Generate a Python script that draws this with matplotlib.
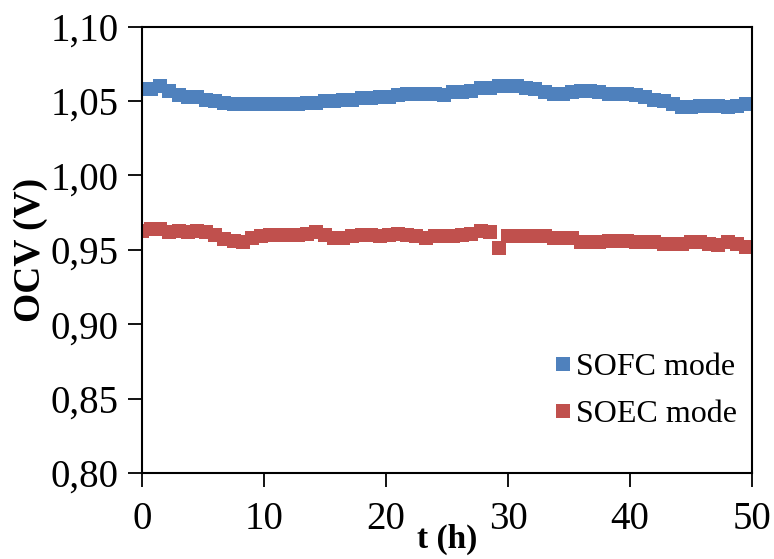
import matplotlib
matplotlib.use("Agg")
import matplotlib.pyplot as plt
from matplotlib.ticker import FuncFormatter, MultipleLocator

plt.rcParams['font.family'] = ['Liberation Serif', 'DejaVu Serif']

# Time (h) and open circuit voltage (V) for both modes
t_h = [0, 0.75, 1.5, 2.25, 3.0, 3.75, 4.5, 5.25, 6.0, 6.75, 7.5, 8.25, 9.0, 9.75,
       10.5, 11.25, 12.0, 12.75, 13.5, 14.25, 15.0, 15.75, 16.5, 17.25, 18.0, 18.75,
       19.5, 20.25, 21.0, 21.75, 22.5, 23.25, 24.0, 24.75, 25.5, 26.25, 27.0, 27.75,
       28.5, 29.25, 30.0, 30.75, 31.5, 32.25, 33.0, 33.75, 34.5, 35.25, 36.0, 36.75,
       37.5, 38.25, 39.0, 39.75, 40.5, 41.25, 42.0, 42.75, 43.5, 44.25, 45.0, 45.75,
       46.5, 47.25, 48.0, 48.75, 49.5]

ocv_sofc = [1.058, 1.058, 1.060, 1.057, 1.054, 1.053, 1.053, 1.051, 1.050, 1.049,
            1.048, 1.048, 1.048, 1.048, 1.048, 1.048, 1.048, 1.048, 1.049, 1.049,
            1.050, 1.050, 1.051, 1.051, 1.052, 1.052, 1.053, 1.053, 1.054, 1.055,
            1.055, 1.055, 1.055, 1.054, 1.056, 1.056, 1.057, 1.059, 1.059, 1.060,
            1.060, 1.060, 1.059, 1.058, 1.056, 1.055, 1.055, 1.056, 1.057, 1.057,
            1.056, 1.055, 1.055, 1.055, 1.054, 1.053, 1.051, 1.050, 1.048, 1.046,
            1.046, 1.047, 1.047, 1.047, 1.046, 1.047, 1.048]

ocv_soec = [0.963, 0.964, 0.964, 0.962, 0.963, 0.962, 0.963, 0.962, 0.960, 0.957,
            0.956, 0.955, 0.958, 0.959, 0.960, 0.960, 0.960, 0.960, 0.961, 0.962,
            0.960, 0.958, 0.958, 0.959, 0.960, 0.960, 0.959, 0.960, 0.961, 0.960,
            0.959, 0.958, 0.959, 0.959, 0.959, 0.960, 0.961, 0.963, 0.962, 0.951,
            0.959, 0.959, 0.959, 0.959, 0.959, 0.958, 0.958, 0.958, 0.955, 0.955,
            0.955, 0.956, 0.956, 0.956, 0.955, 0.955, 0.955, 0.954, 0.954, 0.954,
            0.955, 0.955, 0.954, 0.953, 0.955, 0.954, 0.952]

blue = "#4F81BD"
red = "#C0504D"

fig = plt.figure(figsize=(7.74, 5.59), dpi=100)
ax = fig.add_axes([0.1835, 0.1538, 0.788, 0.7984])

ax.plot(t_h, ocv_sofc, linestyle="none", marker="s", markersize=9.5,
        markeredgewidth=0, color=blue, label="SOFC mode")
ax.plot(t_h, ocv_soec, linestyle="none", marker="s", markersize=9.5,
        markeredgewidth=0, color=red, label="SOEC mode")

ax.set_xlim(0, 50)
ax.set_ylim(0.80, 1.10)
ax.xaxis.set_major_locator(MultipleLocator(10))
ax.yaxis.set_major_locator(MultipleLocator(0.05))
ax.yaxis.set_major_formatter(FuncFormatter(lambda v, p: f"{v:.2f}".replace(".", ",")))

ax.tick_params(direction="out", length=10, width=1.3, labelsize=28)
ax.tick_params(axis="x", pad=10)
ax.tick_params(axis="y", pad=7)
for sp in ax.spines.values():
    sp.set_linewidth(1.5)

ax.set_xlabel("t (h)", fontsize=24, fontweight="bold", labelpad=-10)
ax.set_ylabel("OCV (V)", fontsize=27, fontweight="bold", labelpad=2)

ax.legend(loc="lower right", bbox_to_anchor=(1.022, 0.034), frameon=False,
          fontsize=23, numpoints=1, handlelength=0.5, handletextpad=0.15,
          labelspacing=0.55)

fig.savefig("out.png", dpi=100)
